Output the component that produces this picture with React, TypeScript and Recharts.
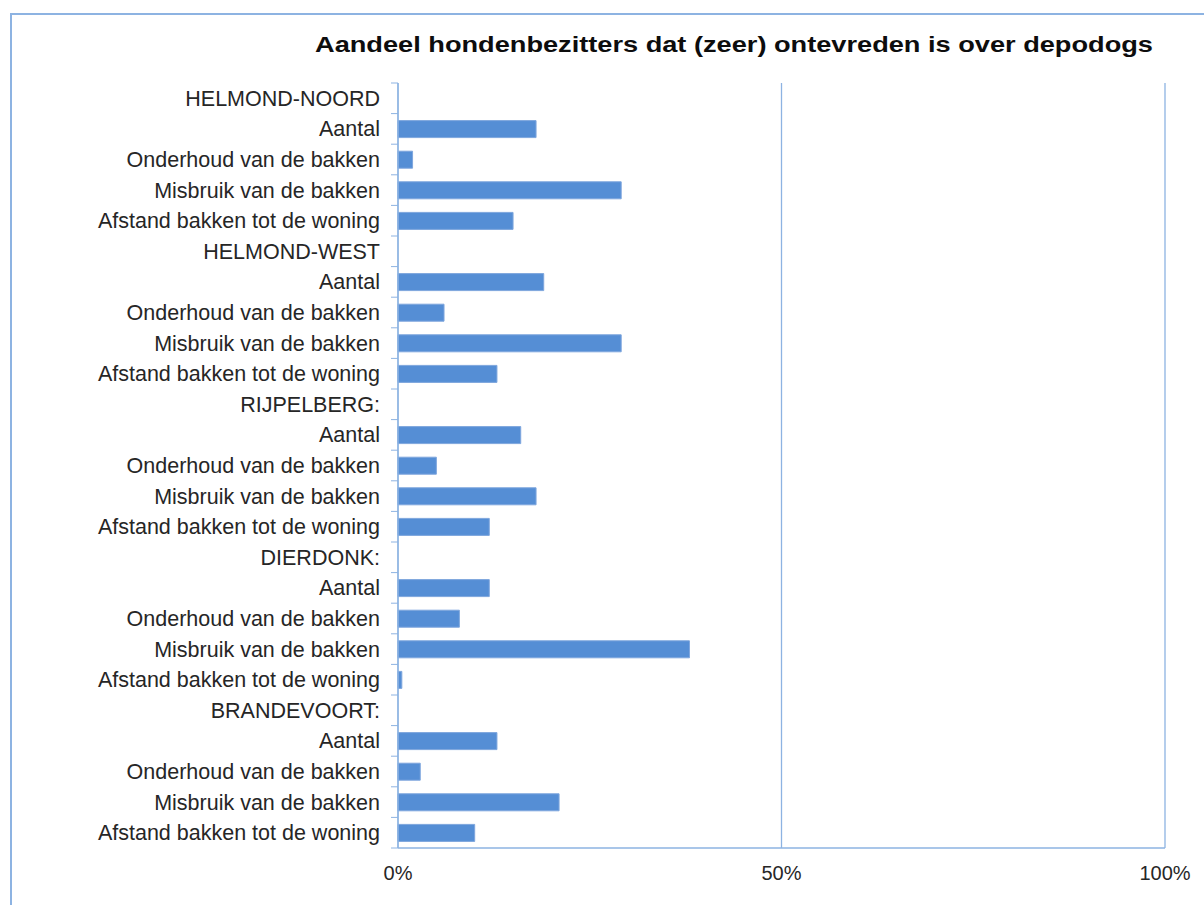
import * as React from 'react';
import { BarChart, Bar, XAxis, YAxis, CartesianGrid } from 'recharts';

// rijen van boven naar beneden; wijk-koppen hebben geen waarde
const labels = [
  'HELMOND-NOORD', 'Aantal', 'Onderhoud van de bakken', 'Misbruik van de bakken', 'Afstand bakken tot de woning',
  'HELMOND-WEST', 'Aantal', 'Onderhoud van de bakken', 'Misbruik van de bakken', 'Afstand bakken tot de woning',
  'RIJPELBERG:', 'Aantal', 'Onderhoud van de bakken', 'Misbruik van de bakken', 'Afstand bakken tot de woning',
  'DIERDONK:', 'Aantal', 'Onderhoud van de bakken', 'Misbruik van de bakken', 'Afstand bakken tot de woning',
  'BRANDEVOORT:', 'Aantal', 'Onderhoud van de bakken', 'Misbruik van de bakken', 'Afstand bakken tot de woning',
];
const values: (number | null)[] = [
  null, 18, 1.9, 29.1, 15,
  null, 19, 6, 29.1, 12.9,
  null, 16, 5, 18, 11.9,
  null, 11.9, 8, 38, 0.5,
  null, 12.9, 2.9, 21, 10,
];
const xTicks = [0, 50, 100];

const data = labels.map((name, i) => ({ id: i, name, value: values[i] }));

const BLUE_LINE = '#8db3e2';
const TEXT = '#262626';
const FONT = 'Liberation Sans, Arial, sans-serif';
const PLOT_H = 765;
const BAND = PLOT_H / labels.length;

const CatTick = (props: any) => {
  const { x, y, payload, index } = props;
  return (
    <g>
      <line x1={x - 7} x2={x} y1={y - BAND / 2} y2={y - BAND / 2} stroke={BLUE_LINE} />
      {index === labels.length - 1 && (
        <line x1={x - 7} x2={x} y1={y + BAND / 2} y2={y + BAND / 2} stroke={BLUE_LINE} />
      )}
      <text x={x - 18} y={y} dy="0.35em" textAnchor="end" fill={TEXT} fontSize={21.5} fontFamily={FONT}>
        {labels[payload.value]}
      </text>
    </g>
  );
};

export default function App() {
  return (
    <div style={{ position: 'absolute', left: 0, top: 0, width: 1204, height: 905, overflow: 'hidden', background: '#fff' }}>
      <div style={{ position: 'absolute', left: 10, top: 13, width: 1300, height: 1000, border: `2px solid ${BLUE_LINE}` }} />
      <div style={{
        position: 'absolute', left: 334, top: 32, width: 800, textAlign: 'center',
        fontFamily: FONT, fontWeight: 'bold', fontSize: 22, color: '#0d0d0d', whiteSpace: 'nowrap',
        transform: 'scaleX(1.235)', transformOrigin: '50% 50%',
      }}>
        Aandeel hondenbezitters dat (zeer) ontevreden is over depodogs
      </div>
      <div style={{ position: 'absolute', left: 0, top: 0 }}>
        <BarChart
          width={1204}
          height={905}
          data={data}
          layout="vertical"
          margin={{ top: 83, right: 39, bottom: 17, left: 0 }}
        >
          <CartesianGrid horizontal={false} stroke={BLUE_LINE} strokeWidth={1.3} strokeDasharray="" />
          <XAxis
            type="number"
            domain={[0, 100]}
            ticks={xTicks}
            tickFormatter={(v: number) => v + '%'}
            axisLine={{ stroke: BLUE_LINE, strokeWidth: 1.3 }}
            tickLine={false}
            tickMargin={12}
            height={40}
            tick={{ fill: TEXT, fontSize: 20, fontFamily: FONT }}
          />
          <XAxis
            xAxisId="top"
            orientation="top"
            type="number"
            domain={[0, 100]}
            height={0}
            tick={false}
            tickLine={false}
            axisLine={{ stroke: '#a6a6a6' }}
          />
          <YAxis
            type="category"
            dataKey="id"
            width={398}
            axisLine={{ stroke: BLUE_LINE, strokeWidth: 1.3 }}
            tickLine={false}
            tickSize={0}
            tickMargin={0}
            tick={<CatTick />}
            interval={0}
          />
          <Bar dataKey="value" fill="#558ed5" stroke="#7ea6dd" strokeWidth={1} barSize={17} isAnimationActive={false} />
        </BarChart>
      </div>
    </div>
  );
}
